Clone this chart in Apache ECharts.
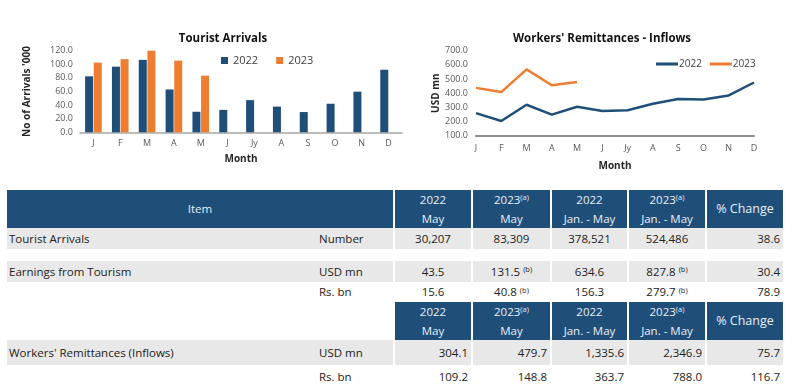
<!DOCTYPE html>
<html><head><meta charset="utf-8">
<script src="https://cdn.jsdelivr.net/npm/echarts@6/dist/echarts.min.js"></script>
<style>
html,body{margin:0;padding:0;background:#fff;width:792px;height:388px;overflow:hidden;font-family:"Open Sans",sans-serif;}
#chart{position:absolute;left:0;top:0;width:792px;height:186px;}
.c{position:absolute;box-sizing:border-box;font-size:11.5px;color:#222;white-space:nowrap;display:flex;align-items:center;}
.h{background:#1F4E79;color:#e8eef5;flex-direction:column;justify-content:center;line-height:19px;}
.g{background:#E8E8E8;}
sup{font-size:7.5px;vertical-align:top;position:relative;top:-2px;}
</style></head><body>
<div id="chart"></div>
<div id="tbl"></div>
<script>
// ---- chart data ----
const months = ["J","F","M","A","M","J","Jy","A","S","O","N","D"];
const arrivals2022 = [82.3,96.5,106.5,63.0,30.2,32.9,47.3,37.8,29.8,42.0,59.8,92.0];
const arrivals2023 = [102.5,107.6,121.0,105.5,83.3,null,null,null,null,null,null,null];
const remit2022 = [259.2,204.0,318.4,248.9,304.1,274.1,279.1,325.9,359.2,355.6,384.4,475.6];
const remit2023 = [437.5,407.8,568.3,456.0,479.7,null,null,null,null,null,null,null];

// ---- table data ----
const headTop = ["2022","2023","2022","2023",""];
const headBottom = ["May","May","Jan. - May","Jan. - May",""];
const headSup = ["","(a)","","(a)",""];
const rowItems = ["Tourist Arrivals","Earnings from Tourism","","Workers' Remittances (Inflows)",""];
const rowUnits = ["Number","USD mn","Rs. bn","USD mn","Rs. bn"];
const colMay2022 = ["30,207","43.5","15.6","304.1","109.2"];
const colMay2023 = ["83,309","131.5","40.8","479.7","148.8"];
const colJanMay2022 = ["378,521","634.6","156.3","1,335.6","363.7"];
const colJanMay2023 = ["524,486","827.8","279.7","2,346.9","788.0"];
const colChange = ["38.6","30.4","78.9","75.7","116.7"];
const supMay2023 = ["","(b)","(b)","",""];
const supJanMay2023 = ["","(b)","(b)","",""];

const BLUE = "#1F4E79", ORANGE = "#ED7D31";
const chart = echarts.init(document.getElementById('chart'));
const axLbl = {fontSize:9, color:"#595959", fontFamily:"Open Sans"};
const nameSt = {fontSize:10, fontWeight:"bold", color:"#262626", fontFamily:"Open Sans"};
chart.setOption({
  animation:false,
  title:[
    {text:"Tourist Arrivals", left:218, top:28, textAlign:"center", textStyle:{fontSize:11.5,fontWeight:"bold",color:"#111",fontFamily:"Open Sans"}},
    {text:"Workers' Remittances - Inflows", left:597, top:28, textAlign:"center", textStyle:{fontSize:11.5,fontWeight:"bold",color:"#111",fontFamily:"Open Sans"}}
  ],
  legend:[
    {data:["2022","2023"], left:216, top:50, itemWidth:7, itemHeight:7, itemGap:18, icon:"rect",
     textStyle:{fontSize:11,color:"#404040",fontFamily:"Open Sans"}, selectedMode:false},
    {data:["r2022","r2023"], left:651, top:54, itemWidth:22, itemHeight:3, itemGap:8, icon:"rect",
     formatter:n=>n.slice(1), textStyle:{fontSize:10,color:"#404040",fontFamily:"Open Sans",padding:[0,0,0,-4]}, selectedMode:false}
  ],
  grid:[
    {left:80, top:50.7, width:322, height:81.6},
    {left:476, top:50.7, width:278, height:85}
  ],
  xAxis:[
    {type:"category", gridIndex:0, data:months, axisTick:{show:false},
     axisLine:{lineStyle:{color:"#A6A6A6",width:1.5}}, axisLabel:Object.assign({margin:7},axLbl),
     name:"Month", nameLocation:"middle", nameGap:22, nameTextStyle:nameSt},
    {type:"category", gridIndex:1, data:months, boundaryGap:false, axisTick:{show:false},
     axisLine:{lineStyle:{color:"#8C8C8C",width:2}}, axisLabel:Object.assign({margin:8},axLbl),
     name:"Month", nameLocation:"middle", nameGap:25, nameTextStyle:nameSt}
  ],
  yAxis:[
    {type:"value", gridIndex:0, min:0, max:120, interval:20, splitLine:{show:false}, axisLine:{show:false},
     axisLabel:Object.assign({margin:7, formatter:v=>v.toFixed(1)},axLbl),
     name:"No of Arrivals '000", nameLocation:"middle", nameRotate:90, nameGap:48, nameTextStyle:nameSt},
    {type:"value", gridIndex:1, min:100, max:700, interval:100, splitLine:{show:false}, axisLine:{show:false},
     axisLabel:Object.assign({margin:8, formatter:v=>v.toFixed(1)},axLbl),
     name:"USD mn", nameLocation:"middle", nameRotate:90, nameGap:35, nameTextStyle:nameSt}
  ],
  series:[
    {name:"2022", type:"bar", xAxisIndex:0, yAxisIndex:0, data:arrivals2022, barWidth:8, barGap:"8%", itemStyle:{color:BLUE}},
    {name:"2023", type:"bar", xAxisIndex:0, yAxisIndex:0, data:arrivals2023, barWidth:8, barGap:"8%", itemStyle:{color:ORANGE}},
    {name:"r2022", type:"line", xAxisIndex:1, yAxisIndex:1, data:remit2022, showSymbol:false, symbol:"none", lineStyle:{color:BLUE,width:2.5}, itemStyle:{color:BLUE}},
    {name:"r2023", type:"line", xAxisIndex:1, yAxisIndex:1, data:remit2023, showSymbol:false, symbol:"none", lineStyle:{color:ORANGE,width:2.5}, itemStyle:{color:ORANGE}}
  ]
});

// ---- table ----
const tbl = document.getElementById('tbl');
function cell(x,y,w,h,cls,html,align,pad){
  const d=document.createElement('div');
  d.className='c '+cls;
  d.style.left=x+'px';d.style.top=y+'px';d.style.width=w+'px';d.style.height=h+'px';
  d.style.justifyContent=align||'flex-start';
  if(pad) d.style.padding=pad;
  d.innerHTML=html;
  tbl.appendChild(d);
  return d;
}
const cols=[[395,76],[473,77],[552,75],[629,76],[707,76]];
const dataCols=[colMay2022,colMay2023,colJanMay2022,colJanMay2023,colChange];
const dataSups=[null,supMay2023,null,supJanMay2023,null];
function header(y,h,withItem){
  if(withItem){
    const d=cell(7,y,386,h,'h','Item','center');
    d.style.flexDirection='row';
  }
  cols.forEach((c,i)=>{
    if(i===4){ const d=cell(c[0],y,c[1],h,'h','% Change','center'); d.style.fontSize='12.5px'; d.style.flexDirection='row';}
    else cell(c[0],y,c[1],h,'h','<div>'+headTop[i]+(headSup[i]?'<sup>'+headSup[i]+'</sup>':'')+'</div><div>'+headBottom[i]+'</div>','center');
  });
}
const rowsY=[[228,20.5,'g'],[261,20.7,'g'],[281.7,20,''],[340,25,'g'],[365,23,'']];
header(190,37.7,true);
header(301.7,38.3,false);
rowsY.forEach((r,k)=>{
  const [y,h,cls]=r;
  cell(7,y,386,h,cls,'','flex-start');
  cell(9,y,300,h,'',rowItems[k],'flex-start').style.background='transparent';
  cell(319,y,70,h,'',rowUnits[k],'flex-start').style.background='transparent';
  cols.forEach((c,i)=>{
    const right = (i===4) || k>=3;
    const s = dataSups[i] && dataSups[i][k] ? '&nbsp;<sup>'+dataSups[i][k]+'</sup>' : '';
    cell(c[0],y,c[1],h,cls,dataCols[i][k]+s, right?'flex-end':'center', right?'0 3px 0 0':'');
  });
});
</script>
</body></html>
